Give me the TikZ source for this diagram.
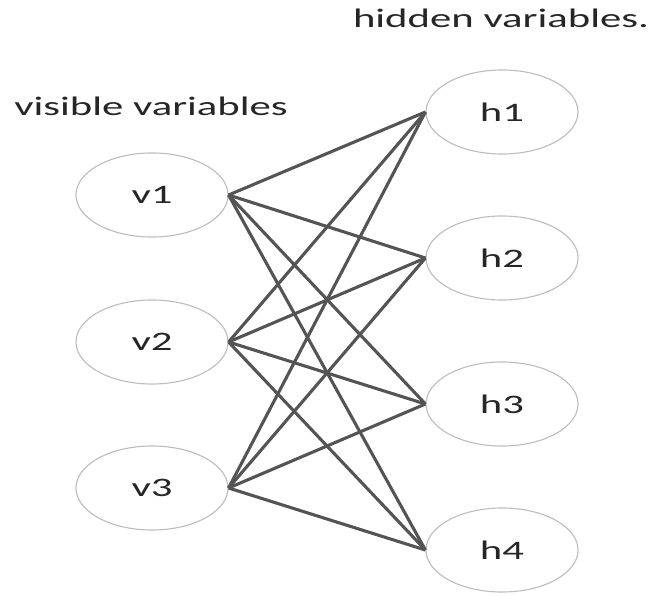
\documentclass[tikz,border=0pt]{standalone}
\usepackage{fontspec}
\usepackage{graphicx}
\setsansfont{Carlito}
\usetikzlibrary{shapes.geometric}
\definecolor{EdgeGray}{rgb}{0.33, 0.33, 0.33}
\definecolor{RingGray}{rgb}{0.74, 0.74, 0.74}
\definecolor{TextGray}{rgb}{0.15, 0.15, 0.15}
\newcommand{\widetxt}[1]{\scalebox{1.6}[1]{#1}}

\begin{document}
\begin{tikzpicture}[
    x=0.025cm, y=-0.025cm,
    font=\sffamily\fontsize{19}{22}\selectfont,
    unit/.style={ellipse, draw=RingGray, line width=0.8pt, text=TextGray,
                 minimum width=3.8cm, minimum height=2.1cm, inner sep=0pt},
    link/.style={line width=2.2pt, EdgeGray},
    title/.style={text=TextGray, inner sep=0pt},
]
\useasboundingbox (0,0) rectangle (656,596);

% ============ visible layer ============
\node[title] (vtitle) at (151,106) {\widetxt{visible variables}};
\node[unit] (v1) at (152,195) {\widetxt{v1}};
\node[unit] (v2) at (152,342) {\widetxt{v2}};
\node[unit] (v3) at (152,488) {\widetxt{v3}};

% ============ hidden layer ============
\node[title] (htitle) at (501,18) {\widetxt{hidden variables.}};
\node[unit] (h1) at (502,112) {\widetxt{h1}};
\node[unit] (h2) at (502,258) {\widetxt{h2}};
\node[unit] (h3) at (502,404) {\widetxt{h3}};
\node[unit] (h4) at (502,550) {\widetxt{h4}};

% full bipartite wiring
\foreach \v in {1,2,3}
  \foreach \h in {1,2,3,4}
    \draw[link] (v\v.east) -- (h\h.west);

\end{tikzpicture}
\end{document}
